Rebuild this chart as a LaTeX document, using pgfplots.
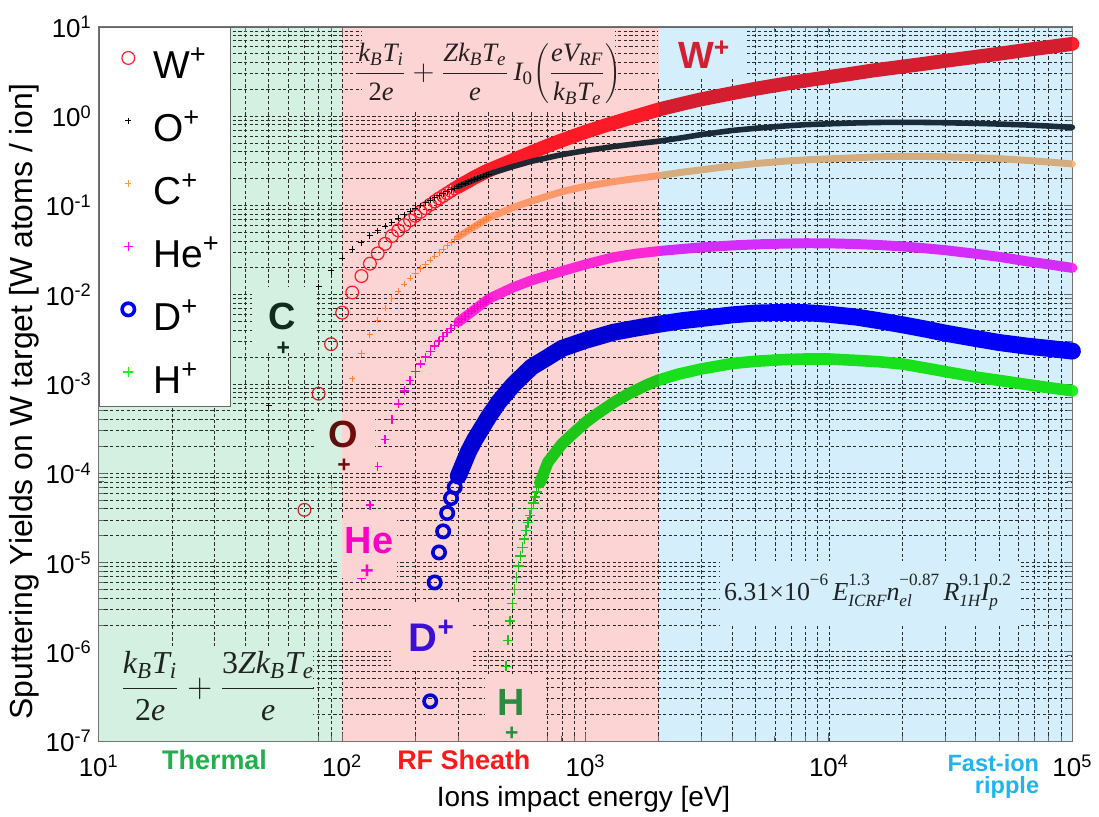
\documentclass[border=0pt]{standalone}
\usepackage{pgfplots}
\pgfplotsset{compat=1.18}
\usepackage{fontspec}
\setmainfont{Liberation Sans}
\newfontfamily\tms{Liberation Serif}

% region shades
\definecolor{thermalbg}{HTML}{D4F0E0}
\definecolor{sheathbg}{HTML}{FDD4D4}
\definecolor{ripplebg}{HTML}{D4EFFB}
% series colours
\definecolor{wcol}{HTML}{FF2030}
\definecolor{ocol}{HTML}{000000}
\definecolor{oband}{HTML}{20303A}
\definecolor{ccol}{HTML}{FF9A40}
\definecolor{cband}{HTML}{FFB880}
\definecolor{hecol}{HTML}{FF00FF}
\definecolor{heband}{HTML}{FF30FF}
\definecolor{dcol}{HTML}{0000FF}
\definecolor{hcol}{HTML}{1EF01E}
\definecolor{gridcol}{HTML}{303030}
% annotation colours
\definecolor{wtxt}{HTML}{FF2233}
\definecolor{ctxt}{HTML}{123020}
\definecolor{otxt}{HTML}{701010}
\definecolor{hetxt}{HTML}{FF00EE}
\definecolor{dtxt}{HTML}{3A14FF}
\definecolor{htxt}{HTML}{2EA84D}
\definecolor{thermaltxt}{HTML}{22B04E}
\definecolor{sheathtxt}{HTML}{FF1A1A}
\definecolor{rippletxt}{HTML}{1EB4F0}

\newcommand{\pw}[1]{10\textsuperscript{#1}}
\newcommand{\lbl}{\fontsize{19}{22}\selectfont\bfseries}
\newcommand{\plbl}{\fontsize{11.5}{12}\selectfont\bfseries}
% serif pieces for the formulas
\newcommand{\mi}[1]{\hbox{\tms\itshape #1}}
\newcommand{\mr}[1]{\hbox{\tms #1}}
\newcommand{\si}[1]{\hbox{\tms\itshape\scriptsz #1}}
\newcommand{\sr}[1]{\hbox{\tms\scriptsz #1}}
% stacked exponent over index, and a lone exponent
\newcommand{\stk}[2]{%
  \setbox0=\hbox{\sr{#1}}\setbox2=\hbox{\si{#2}}%
  \dimen0=\ifdim\wd0>\wd2 \wd0\else\wd2\fi
  \hbox to \dimen0{\rlap{\raise7.5pt\box0}\lower3pt\box2\hss}}
\newcommand{\stkup}[1]{\raise7.5pt\hbox{\sr{#1}}}

\begin{document}
\begin{tikzpicture}
\path (0,0) rectangle (549.5pt,409.5pt);
\begin{axis}[
  at={(49.5pt,38pt)}, anchor=south west,
  scale only axis, width=488pt, height=358pt,
  xmode=log, ymode=log,
  xmin=10, xmax=1e5, ymin=1e-7, ymax=10,
  clip=false, clip marker paths=true,
  xtick={10,100,1000,10000,100000},
  xticklabels={\pw{1},\pw{2},\pw{3},\pw{4},\pw{5}},
  ytick={1e-7,1e-6,1e-5,1e-4,1e-3,1e-2,1e-1,1,10},
  yticklabels={\pw{-7},\pw{-6},\pw{-5},\pw{-4},\pw{-3},\pw{-2},\pw{-1},\pw{0},\pw{1}},
  minor xtick={20,30,40,50,60,70,80,90,200,300,400,500,600,700,800,900,2000,3000,4000,5000,6000,7000,8000,9000,20000,30000,40000,50000,60000,70000,80000,90000},
  minor ytick={2e-7,3e-7,4e-7,5e-7,6e-7,7e-7,8e-7,9e-7,
               2e-6,3e-6,4e-6,5e-6,6e-6,7e-6,8e-6,9e-6,
               2e-5,3e-5,4e-5,5e-5,6e-5,7e-5,8e-5,9e-5,
               2e-4,3e-4,4e-4,5e-4,6e-4,7e-4,8e-4,9e-4,
               2e-3,3e-3,4e-3,5e-3,6e-3,7e-3,8e-3,9e-3,
               2e-2,3e-2,4e-2,5e-2,6e-2,7e-2,8e-2,9e-2,
               0.2,0.3,0.4,0.5,0.6,0.7,0.8,0.9,
               2,3,4,5,6,7,8,9},
  grid=both,
  major grid style={gridcol, line width=0.45pt, dash pattern=on 1.6pt off 1.2pt},
  minor grid style={gridcol, line width=0.45pt, dash pattern=on 1.6pt off 1.2pt},
  tick align=inside,
  major tick length=4pt, minor tick length=2.5pt,
  axis line style={black!55, line width=0.6pt},
  tick style={black!55, line width=0.5pt},
  tick label style={font=\fontsize{13}{15}\selectfont},
  xticklabel style={anchor=base, yshift=-17.5pt},
  legend style={at={(0,1)}, anchor=north west, draw=black!60, line width=0.6pt,
    fill=white, font=\fontsize{19.5}{22}\selectfont, row sep=12.5pt,
    inner xsep=3pt, inner ysep=6.75pt,
    nodes={inner sep=0pt, text height=19pt, text depth=0pt}},
  legend cell align=left,
  legend image code/.code={\path[draw=none, fill=none] (0pt,0pt) -- (24pt,0pt);
    \draw[#1, mark repeat=1] plot coordinates {(11.5pt,1pt)};},
]

% ---- W+ ----
\addplot[forget plot, no marks, wcol, line width=7pt, line cap=round, line join=round] coordinates {
 (300,0.163) (350,0.207) (400,0.248) (500,0.320) (600,0.394) (700,0.468) (800,0.537)
 (1000,0.668) (1200,0.785) (1500,0.944) (2000,1.19) (2500,1.38) (3000,1.55) (4000,1.81)
 (5000,2.03) (6000,2.21) (8000,2.51) (10000,2.75) (12000,2.95) (15000,3.24) (20000,3.59)
 (25000,3.89) (30000,4.17) (40000,4.62) (50000,5.01) (60000,5.37) (80000,5.96) (100000,6.46)};
\addplot[only marks, mark=o, wcol, mark size=3.2pt, mark options={line width=0.6pt}] coordinates {
 (70,3.9e-5) (80,7.8e-4) (90,2.8e-3) (100,6.3e-3) (110,1.06e-2) (120,1.62e-2) (130,2.23e-2)
 (140,2.91e-2) (150,3.72e-2) (160,4.55e-2) (170,5.26e-2) (180,6.03e-2) (190,6.84e-2)
 (200,7.67e-2) (210,8.51e-2) (220,9.33e-2) (230,0.102) (240,0.111) (250,0.120) (260,0.128)
 (270,0.137) (280,0.146) (290,0.155) (300,0.163) (310,0.172) (320,0.180) (330,0.188)
 (340,0.197) (350,0.207) (360,0.215) (370,0.223) (380,0.232) (390,0.240) (400,0.248)};
\addlegendentry{W\textsuperscript{+}}

% ---- O+ ----
\addplot[forget plot, no marks, oband, line width=2.8pt, line cap=round, line join=round] coordinates {
 (300,0.164) (400,0.225) (500,0.272) (600,0.313) (800,0.372) (1000,0.412) (1300,0.457)
 (1600,0.490) (2000,0.525) (2500,0.575) (3000,0.624) (4000,0.692) (5000,0.733) (6500,0.776)
 (8000,0.804) (10000,0.822) (13000,0.841) (16000,0.851) (20000,0.855) (25000,0.851)
 (30000,0.845) (40000,0.832) (50000,0.817) (65000,0.798) (80000,0.776) (100000,0.750)};
\addplot[only marks, mark=+, ocol, mark size=1.5pt, mark options={line width=0.5pt}] coordinates {
 (50,5.7e-4) (80,1.23e-2) (90,1.85e-2) (100,2.56e-2) (110,3.24e-2) (120,3.83e-2) (130,4.57e-2)
 (140,5.19e-2) (150,5.85e-2) (160,6.52e-2) (170,7.19e-2) (180,7.89e-2) (190,8.59e-2)
 (200,9.31e-2) (210,0.100) (220,0.107) (230,0.115) (240,0.122) (250,0.129) (260,0.136)
 (270,0.143) (280,0.150) (290,0.157) (300,0.164) (310,0.171) (320,0.177) (330,0.184)
 (340,0.190) (350,0.196) (360,0.202) (370,0.208) (380,0.214) (390,0.220) (400,0.225)};
\addlegendentry{O\textsuperscript{+}}

% ---- C+ ----
\addplot[forget plot, no marks, cband, line width=3.5pt, line cap=round, line join=round] coordinates {
 (300,4.47e-2) (400,7.28e-2) (500,9.44e-2) (600,0.112) (800,0.143) (1000,0.164) (1300,0.185)
 (1600,0.200) (2000,0.216) (2500,0.236) (3000,0.251) (4000,0.277) (5000,0.295) (6500,0.313)
 (8000,0.324) (10000,0.333) (13000,0.343) (16000,0.351) (20000,0.355) (25000,0.354)
 (30000,0.351) (40000,0.343) (50000,0.335) (65000,0.320) (80000,0.307) (100000,0.292)};
\addplot[only marks, mark=+, ccol, mark size=1.6pt, mark options={line width=0.5pt}] coordinates {
 (90,7.0e-5) (110,1.14e-3) (120,2.20e-3) (130,3.56e-3) (140,5.19e-3) (150,7.06e-3)
 (160,9.08e-3) (170,1.10e-2) (180,1.32e-2) (190,1.53e-2) (200,1.75e-2) (210,1.97e-2)
 (220,2.20e-2) (230,2.44e-2) (240,2.70e-2) (250,2.97e-2) (260,3.25e-2) (270,3.54e-2)
 (280,3.85e-2) (290,4.15e-2) (300,4.47e-2) (310,4.76e-2) (320,5.06e-2) (330,5.35e-2)
 (340,5.64e-2) (350,5.92e-2) (360,6.19e-2) (370,6.47e-2) (380,6.75e-2) (390,7.02e-2) (400,7.28e-2)};
\addlegendentry{C\textsuperscript{+}}

% ---- He+ ----
\addplot[forget plot, no marks, heband, line width=5pt, line cap=round, line join=round] coordinates {
 (300,4.94e-3) (400,9.02e-3) (500,1.20e-2) (600,1.45e-2) (800,1.84e-2) (1000,2.19e-2)
 (1300,2.63e-2) (1600,2.88e-2) (2000,3.09e-2) (2500,3.26e-2) (3000,3.40e-2) (4000,3.57e-2)
 (5000,3.67e-2) (6500,3.74e-2) (8000,3.78e-2) (10000,3.77e-2) (13000,3.70e-2) (16000,3.61e-2)
 (20000,3.48e-2) (25000,3.31e-2) (30000,3.16e-2) (40000,2.88e-2) (50000,2.66e-2)
 (65000,2.37e-2) (80000,2.19e-2) (100000,2.00e-2)};
\addplot[only marks, mark=+, hecol, mark size=2.2pt, mark options={line width=0.7pt}] coordinates {
 (120,6.61e-6) (130,4.40e-5) (140,1.20e-4) (150,2.40e-4) (160,3.98e-4) (170,6.00e-4)
 (180,8.39e-4) (190,1.10e-3) (200,1.38e-3) (210,1.68e-3) (220,2.00e-3) (230,2.33e-3)
 (240,2.68e-3) (250,3.03e-3) (260,3.40e-3) (270,3.78e-3) (280,4.17e-3) (290,4.55e-3)
 (300,4.94e-3) (310,5.35e-3) (320,5.75e-3) (330,6.17e-3) (340,6.58e-3) (350,6.98e-3)
 (360,7.40e-3) (370,7.80e-3) (380,8.20e-3) (390,8.61e-3) (400,9.02e-3)};
\addlegendentry{He\textsuperscript{+}\kern2.5pt}

% ---- D+ ----
\addplot[forget plot, no marks, dcol, line width=8.5pt, line cap=round, line join=round] coordinates {
 (300,9.33e-5) (330,1.74e-4) (350,2.37e-4) (400,4.32e-4) (440,6.31e-4) (500,9.55e-4)
 (530,1.12e-3) (600,1.55e-3) (700,2.00e-3) (800,2.51e-3) (1000,3.09e-3) (1300,3.80e-3)
 (1600,4.22e-3) (2000,4.68e-3) (2500,5.13e-3) (3000,5.43e-3) (4000,5.96e-3) (5000,6.24e-3)
 (6500,6.35e-3) (8000,6.31e-3) (10000,6.05e-3) (13000,5.62e-3) (16000,5.13e-3)
 (20000,4.62e-3) (25000,4.12e-3) (30000,3.72e-3) (40000,3.24e-3) (50000,2.92e-3)
 (65000,2.66e-3) (80000,2.51e-3) (100000,2.34e-3)};
\addplot[only marks, mark=o, dcol, mark size=3.1pt, mark options={line width=1.8pt}] coordinates {
 (230,2.8e-7) (240,6.0e-6) (250,1.30e-5) (260,2.24e-5) (270,3.59e-5) (280,5.28e-5)
 (290,7.01e-5) (300,9.33e-5) (310,1.17e-4) (320,1.45e-4) (330,1.74e-4) (340,2.04e-4) (350,2.37e-4)};
\addlegendentry{D\textsuperscript{+}}

% ---- H+ ----
\addplot[forget plot, no marks, hcol, line width=5.8pt, line cap=round, line join=round] coordinates {
 (650,7.89e-5) (700,1.33e-4) (800,2.14e-4) (900,2.88e-4) (1000,3.72e-4)
 (1100,4.52e-4) (1300,6.17e-4) (1500,7.76e-4) (1800,9.89e-4) (2000,1.11e-3) (2400,1.29e-3)
 (3000,1.48e-3) (4000,1.70e-3) (5000,1.80e-3) (6500,1.88e-3) (8000,1.91e-3) (10000,1.91e-3)
 (13000,1.84e-3) (16000,1.78e-3) (20000,1.68e-3) (25000,1.51e-3) (30000,1.38e-3)
 (40000,1.20e-3) (50000,1.10e-3) (65000,9.89e-4) (80000,9.12e-4) (100000,8.41e-4)};
\addplot[only marks, mark=+, hcol, mark size=2.6pt, mark options={line width=0.75pt}] coordinates {
 (470,6.9e-7) (480,1.35e-6) (490,2.21e-6) (500,3.48e-6) (510,5.01e-6) (520,6.82e-6)
 (530,9.12e-6) (540,1.18e-5) (550,1.48e-5) (560,1.84e-5) (570,2.29e-5) (580,2.82e-5)
 (590,3.39e-5) (600,4.03e-5) (610,4.68e-5) (620,5.40e-5) (630,6.17e-5) (640,7.00e-5)
 (650,7.89e-5) (660,8.83e-5) (670,9.84e-5) (680,1.09e-4) (690,1.21e-4) (700,1.33e-4)};
\addlegendentry{H\textsuperscript{+}}

% ---- annotation boxes (white, tinted afterwards by the regime shading) ----
\fill[white] (rel axis cs:0.2705,0.8813) rectangle (rel axis cs:0.5307,0.9986);
\fill[white] (rel axis cs:0.5748,0.9316) rectangle (rel axis cs:0.6650,0.9986);
\fill[white] (rel axis cs:0.1578,0.5433) rectangle (rel axis cs:0.2223,0.6355);
\fill[white] (rel axis cs:0.2244,0.3750) rectangle (rel axis cs:0.2838,0.4595);
\fill[white] (rel axis cs:0.2469,0.2290) rectangle (rel axis cs:0.3064,0.3115);
\fill[white] (rel axis cs:0.3002,0.0992) rectangle (rel axis cs:0.3842,0.1927);
\fill[white] (rel axis cs:0.3965,0.0000) rectangle (rel axis cs:0.4570,0.0922);
\fill[white] (rel axis cs:0.0000,0.0000) rectangle (rel axis cs:0.2203,0.1299);
\fill[white] (rel axis cs:0.6383,0.1606) rectangle (rel axis cs:0.9477,0.2528);

\node[inner sep=0pt, font=\fontsize{13.3}{16}\selectfont, text=black!85] at (rel axis cs:0.4006,0.9344)
  {\def\scriptsz{\fontsize{9.5}{10}\selectfont}$\displaystyle
   \frac{\mi{k}_{\si{B}}\mi{T}_{\si{i}}}{\mr{2}\mi{e}}+\frac{\mi{Zk}_{\si{B}}\mi{T}_{\si{e}}}{\mi{e}}\,
   \mi{I}_{\sr{0}}\!\left(\frac{\mi{eV}_{\si{RF}}}{\mi{k}_{\si{B}}\mi{T}_{\si{e}}}\right)$};
\node[inner sep=0pt, font=\fontsize{16}{19}\selectfont, text=black!85] at (rel axis cs:0.1230,0.0768)
  {\def\scriptsz{\fontsize{11.5}{12}\selectfont}$\displaystyle
   \frac{\mi{k}_{\si{B}}\mi{T}_{\si{i}}}{\mr{2}\mi{e}}+\frac{\mr{3}\mi{Zk}_{\si{B}}\mi{T}_{\si{e}}}{\mi{e}}$};
\node[inner sep=0pt, anchor=base, font=\fontsize{13}{15}\selectfont, text=black!85] at (rel axis cs:0.7895,0.1969)
  {\def\scriptsz{\fontsize{8.6}{9}\selectfont}\mr{6.31×10}\stkup{−6}\,\mi{E}\stk{1.3}{ICRF}\mi{n}\stk{−0.87}{el}\,\mi{R}\stk{9.1}{1H}\mi{I}\stk{0.2}{p}};

\node[inner sep=0pt, font=\lbl, text=wtxt] at (rel axis cs:0.6219,0.9609) {W\textsuperscript{+}};
\node[inner sep=0pt, font=\lbl, text=ctxt] at (rel axis cs:0.1885,0.5950) {C};
\node[inner sep=0pt, font=\plbl, text=ctxt] at (rel axis cs:0.1895,0.5500) {+};
\node[inner sep=0pt, font=\lbl, text=otxt] at (rel axis cs:0.2510,0.4290) {O};
\node[inner sep=0pt, font=\plbl, text=otxt] at (rel axis cs:0.2520,0.3850) {+};
\node[inner sep=0pt, font=\lbl, text=hetxt] at (rel axis cs:0.2777,0.2810) {He};
\node[inner sep=0pt, font=\plbl, text=hetxt] at (rel axis cs:0.2756,0.2370) {+};
\node[inner sep=0pt, font=\fontsize{20}{23}\selectfont\bfseries, text=dtxt] at (rel axis cs:0.3422,0.1480) {D\textsuperscript{+}};
\node[inner sep=0pt, font=\lbl, text=htxt] at (rel axis cs:0.4232,0.0540) {H};
\node[inner sep=0pt, font=\plbl, text=htxt] at (rel axis cs:0.4242,0.0110) {+};

% ---- energy regimes ----
\fill[thermalbg, blend mode=multiply] (axis cs:10,1e-7) rectangle (axis cs:100,10);
\fill[sheathbg, blend mode=multiply] (axis cs:100,1e-7) rectangle (axis cs:2000,10);
\fill[ripplebg, blend mode=multiply] (axis cs:2000,1e-7) rectangle (axis cs:1e5,10);

\node[inner sep=0pt, anchor=base, font=\fontsize{13.5}{16}\selectfont\bfseries, text=thermaltxt] at (rel axis cs:0.1189,-0.0391) {Thermal};
\node[inner sep=0pt, anchor=base, font=\fontsize{13.5}{16}\selectfont\bfseries, text=sheathtxt] at (rel axis cs:0.3750,-0.0391) {RF Sheath};
\node[inner sep=0pt, anchor=base east, font=\fontsize{11.8}{14}\selectfont\bfseries, text=rippletxt] at (rel axis cs:0.9662,-0.0419) {Fast-ion};
\node[inner sep=0pt, anchor=base east, font=\fontsize{11.8}{14}\selectfont\bfseries, text=rippletxt] at (rel axis cs:0.9662,-0.0726) {ripple};
\end{axis}
\node[rotate=90, anchor=base, inner sep=0pt, font=\fontsize{16}{19}\selectfont] at (16.5pt,208.25pt) {Sputtering Yields on W target [W atoms / ion]};
\node[anchor=base, inner sep=0pt, font=\fontsize{14}{17}\selectfont] at (292.5pt,5.5pt) {Ions impact energy [eV]};
\end{tikzpicture}
\end{document}
